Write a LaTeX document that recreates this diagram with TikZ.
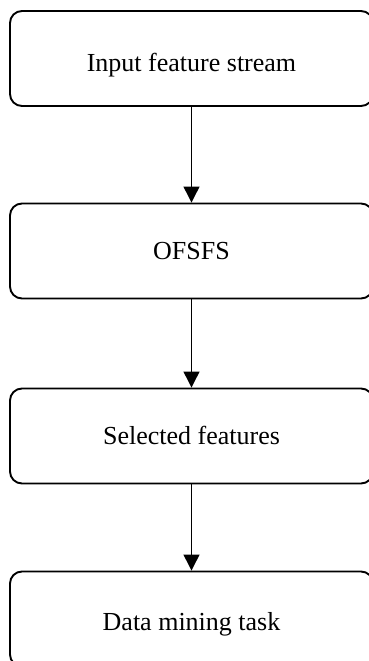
\documentclass[tikz,border=0pt]{standalone}
\usepackage{fontspec}
\setmainfont{Liberation Serif}
\usetikzlibrary{arrows.meta}
\tikzset{
  flowbox/.style={draw, line width=1.9pt, rounded corners=12pt,
    minimum width=363pt, minimum height=95pt, inner sep=0pt,
    text height=18pt, text depth=2pt,
    font=\fontsize{26}{30}\selectfont},
  lowtext/.style={text height=#1},
  flowarrow/.style={line width=1.2pt, -{Triangle[length=16pt,width=16pt]}}
}
\begin{document}
\begin{tikzpicture}[x=1pt, y=-1pt]
  \useasboundingbox (0,0) rectangle (369,661);
  \clip (0,0) rectangle (369,661);
  \node[flowbox, lowtext=27pt] (input)  at (191.5,58.5) {Input feature stream};
  \node[flowbox] (ofsfs)  at (191.5,251)  {OFSFS};
  \node[flowbox] (select) at (191.5,436)  {Selected features};
  \node[flowbox, lowtext=25pt] (mining) at (191.5,619)  {Data mining task};
  \draw[flowarrow] (input.south)  -- (ofsfs.north);
  \draw[flowarrow] (ofsfs.south)  -- (select.north);
  \draw[flowarrow] (select.south) -- (mining.north);
\end{tikzpicture}
\end{document}
